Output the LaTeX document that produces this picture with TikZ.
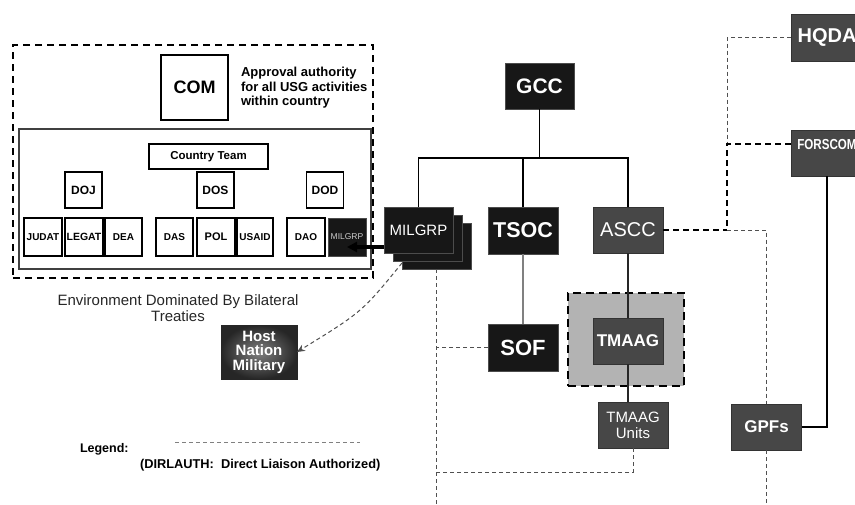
\documentclass[tikz,border=0pt]{standalone}
\usepackage{fontspec}
\setmainfont{Liberation Sans}
\newfontfamily\narrowsans[FakeStretch=0.8]{Liberation Sans}
\usetikzlibrary{arrows.meta,calc}
\definecolor{blk}{HTML}{171717}
\definecolor{dkg}{HTML}{474747}
\definecolor{frm}{HTML}{B3B3B3}
\definecolor{dl}{HTML}{505050}
\newcommand\myfs[1]{\fontsize{#1}{#1}\selectfont}
\begin{document}
\begin{tikzpicture}[x=1pt,y=-1pt,
  every node/.style={inner sep=0pt, outer sep=0pt},
  wbox/.style={draw=black, line width=1.3pt, fill=white, font=\bfseries\myfs{10}},
  bbox/.style={draw=black!70, line width=0.8pt, fill=blk, text=white},
  gbox/.style={draw=black!80, line width=0.8pt, fill=dkg, text=white},
  fine/.style={draw=dl, line width=1pt, dash pattern=on 4pt off 3pt},
  heavydash/.style={draw=black, line width=1.8pt, dash pattern=on 6pt off 4pt},
  solidlink/.style={draw=black, line width=1.8pt},
]
\useasboundingbox (0,0) rectangle (855,504);
\clip (0,0) rectangle (855,504);

% ---------- embassy environment ----------
\node[draw=black, line width=1.8pt, dash pattern=on 7pt off 5pt,
      minimum width=360pt, minimum height=233pt] (envframe) at (193,161.5) {};
\node[draw=black!75, line width=1.8pt, minimum width=352pt, minimum height=140pt] (ctframe) at (195,199) {};

\node[wbox, font=\bfseries\myfs{18}, minimum width=67pt, minimum height=65pt] (com) at (194.5,87.5) {COM};
\node[anchor=west, align=left, font=\bfseries\fontsize{13}{14.5}\selectfont] (appr) at (241,88)
  {Approval authority\\for all USG activities\\within country};

\node[wbox, font=\bfseries\myfs{11.5}, minimum width=119pt, minimum height=25pt] (ct) at (208.5,156.5) {Country Team};
\node[wbox, font=\bfseries\myfs{12}, minimum width=37pt, minimum height=36pt] (doj) at (83.5,190) {DOJ};
\node[wbox, font=\bfseries\myfs{12}, minimum width=37pt, minimum height=36pt] (dos) at (215.5,190) {DOS};
\node[wbox, font=\bfseries\myfs{12}, minimum width=37pt, minimum height=36pt] (dod) at (325,190) {DOD};

\node[wbox, minimum width=38pt, minimum height=38pt] (judat) at (43,237) {JUDAT};
\node[wbox, minimum width=38pt, minimum height=38pt, font=\bfseries\myfs{10.5}] (legat) at (84,237) {LEGAT};
\node[wbox, minimum width=37pt, minimum height=38pt] (dea) at (123.5,237) {DEA};
\node[wbox, minimum width=37pt, minimum height=38pt] (das) at (174.5,237) {DAS};
\node[wbox, minimum width=38pt, minimum height=38pt, font=\bfseries\myfs{11}] (pol) at (216,237) {POL};
\node[wbox, minimum width=36pt, minimum height=38pt] (usaid) at (255,237) {USAID};
\node[wbox, minimum width=38pt, minimum height=38pt] (dao) at (306,237) {DAO};
\node[bbox, minimum width=38pt, minimum height=38pt, font=\myfs{8.5}, text=white!80!black] (milgrps) at (347,237) {MILGRP};

\node[font=\fontsize{15}{16}\selectfont, align=center, text=black!85] (envtxt) at (178,308)
  {Environment Dominated By Bilateral\\Treaties};

% ---------- command structure ----------
\node[bbox, font=\bfseries\myfs{21}, minimum width=69pt, minimum height=46pt] (gcc) at (539.5,86) {GCC};

\node[bbox, minimum width=69pt, minimum height=46pt] (milgrp3) at (436.5,246) {};
\node[bbox, minimum width=69pt, minimum height=46pt] (milgrp2) at (427.5,238) {};
\node[bbox, font=\myfs{15}, minimum width=69pt, minimum height=46pt] (milgrp) at (418.5,230) {MILGRP};
\node[bbox, font=\bfseries\myfs{21.5}, minimum width=70pt, minimum height=47pt] (tsoc) at (523,230.5) {TSOC};
\node[gbox, font=\myfs{20}, minimum width=70pt, minimum height=46pt] (ascc) at (628,230) {ASCC};

\node[bbox, font=\bfseries\myfs{22}, minimum width=70pt, minimum height=47pt] (sof) at (523,347.5) {SOF};

\node[fill=frm, draw=black, line width=2.4pt, dash pattern=on 8pt off 5pt,
      minimum width=116pt, minimum height=93pt] (tframe) at (626,339.5) {};
\node[gbox, font=\bfseries\myfs{17}, minimum width=70pt, minimum height=46pt] (tmaag) at (628,341) {TMAAG};
\node[gbox, font=\fontsize{15}{16}\selectfont, align=center, minimum width=70pt, minimum height=46pt] (tmaagu) at (633,425) {TMAAG\\Units};

\node[gbox, font=\bfseries\myfs{20}, minimum width=72pt, minimum height=47pt] (hqda) at (827,37.5) {HQDA};
\node[gbox, font=\narrowsans\bfseries\myfs{14.5}, minimum width=72pt, minimum height=46pt] (forscom) at (827,153)
  {\raisebox{18pt}{FORSCOM}\hspace{10pt}};
\node[gbox, font=\bfseries\myfs{17}, minimum width=70pt, minimum height=46pt] (gpfs) at (766.5,427) {GPFs};

\node[draw=black!85, line width=0.8pt, inner color=black!50, outer color=black!85,
      minimum width=76pt, minimum height=54pt, text=white, align=center,
      font=\bfseries\fontsize{15}{14.5}\selectfont] (host) at (259,352) {Host\\Nation\\Military};

% ---------- legend ----------
\node[anchor=base west, font=\bfseries\myfs{12.5}] (legend) at (80,452.5) {Legend:};
\node[anchor=base west, font=\bfseries\myfs{12.8}] (legtxt) at (140,468) {(DIRLAUTH:\ \ Direct Liaison Authorized)};
\coordinate (legA) at (175,442);
\coordinate (legB) at (360,442);
\draw[fine, draw=black!50] (legA) -- (legB);

% ---------- solid links ----------
\coordinate (bus) at (539.5,158);
\draw[solidlink] (gcc.south) -- (bus);
\draw[solidlink] (milgrp.north) |- (bus) -| (ascc.north);
\draw[solidlink] (tsoc.north) -- (tsoc.north |- bus);
\draw[draw=black!50, line width=1.3pt] (tsoc.south) -- (sof.north);
\draw[draw=black!85, line width=1.2pt] (ascc.south) -- (tmaag.north);
\draw[draw=black!85, line width=1.2pt] (tmaag.south) -- (tmaag.south |- tmaagu.north);
\draw[solidlink] (gpfs.east) -| (forscom.south);

\coordinate (arrS) at ($(milgrp.south west)+(0,-6)$);
\draw[-{Triangle[length=10pt,width=10pt]}, line width=3.5pt] (arrS) -- (arrS -| milgrps.center);

% ---------- DIRLAUTH links ----------
\coordinate (floor) at (0,508);
\coordinate (j1) at (727,144);
\coordinate (j2) at (727,230);
\coordinate (j3) at (gpfs.north |- j2);
\coordinate (j4) at (436.5,472);
\draw[fine] (hqda.west) -| (j1);
\draw[heavydash] ($(forscom.west)+(0,-9)$) -| (j2);
\draw[heavydash] (ascc.east) -- (j2);
\draw[fine] (j2) -- (j3) -- (gpfs.north);
\draw[fine] (gpfs.south) -- (gpfs.south |- floor);
\draw[fine] (milgrp3.south) -- (milgrp3.south |- floor);
\draw[fine] (sof.west) -- (sof.west -| milgrp3.south);
\draw[fine] (tmaagu.south) |- (j4);
\draw[fine, -{Stealth[length=8pt,width=7pt]}] ($(milgrp3.south west)+(0,-6)$) .. controls (362,312) .. (host.east);
\end{tikzpicture}
\end{document}
